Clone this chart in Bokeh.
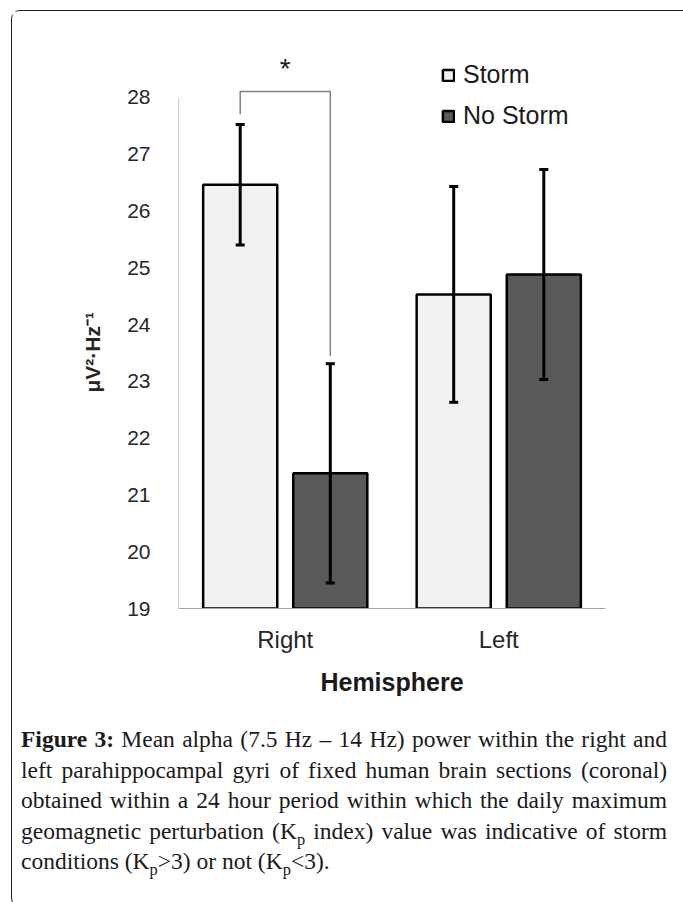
from bokeh.plotting import figure
from bokeh.models import (ColumnDataSource, FactorRange, Range1d, FixedTicker, Whisker,
                          TeeHead, Legend, LegendItem, Div, Title)
from bokeh.layouts import column
from bokeh.transform import dodge
from bokeh.core.properties import value
from bokeh.embed import file_html
from bokeh.resources import INLINE

# ---- data ----
hemispheres = ["Right", "Left"]
storm_mean = [26.46, 24.53]
storm_err = [1.06, 1.90]
nostorm_mean = [21.38, 24.88]
nostorm_err = [1.93, 1.85]
y_ticks = [19, 20, 21, 22, 23, 24, 25, 26, 27, 28]
series_labels = ["Storm", "No Storm"]
sig_bracket_y = [27.70, 28.10, 28.10, 23.45]   # significance bracket levels
sig_label = "*"
sig_label_y = 28.5
y_title = "\u03bcV\u00b2\u00b7Hz\u207b\u00b9"

Y_MIN, Y_AXIS_TOP, Y_VIEW_TOP = 19, 28, 29
OFF = 0.211
BAR_W = 0.347
SANS = "Liberation Sans"

src = ColumnDataSource(dict(
    hemi=hemispheres,
    storm=storm_mean,
    storm_lo=[m - e for m, e in zip(storm_mean, storm_err)],
    storm_hi=[m + e for m, e in zip(storm_mean, storm_err)],
    nostorm=nostorm_mean,
    nostorm_lo=[m - e for m, e in zip(nostorm_mean, nostorm_err)],
    nostorm_hi=[m + e for m, e in zip(nostorm_mean, nostorm_err)],
    base=[Y_MIN] * len(hemispheres),
))

p = figure(x_range=FactorRange(factors=hemispheres, range_padding=0),
           y_range=Range1d(Y_MIN, Y_VIEW_TOP),
           width=670, height=705, output_backend="svg", toolbar_location=None,
           min_border_left=166, min_border_right=77, min_border_top=29, min_border_bottom=108)
p.outline_line_color = None
p.grid.visible = False
p.background_fill_color = "white"
p.border_fill_color = "white"

r_storm = p.vbar(x=dodge("hemi", -OFF, range=p.x_range), top="storm", bottom="base", width=BAR_W,
                 source=src, fill_color="#f2f2f2", line_color="black", line_width=2.5)
r_nostorm = p.vbar(x=dodge("hemi", OFF, range=p.x_range), top="nostorm", bottom="base", width=BAR_W,
                   source=src, fill_color="#595959", line_color="black", line_width=2.5)

for field, off in (("storm", -OFF), ("nostorm", OFF)):
    w = Whisker(base=dodge("hemi", off, range=p.x_range), lower=field + "_lo", upper=field + "_hi",
                source=src, line_color="black", line_width=3, level="overlay",
                upper_head=TeeHead(size=9, line_width=3, line_color="black"),
                lower_head=TeeHead(size=9, line_width=3, line_color="black"))
    p.add_layout(w)

# y axis line only up to the top tick (Excel style)
p.segment(x0=[0], y0=[Y_MIN], x1=[0], y1=[Y_AXIS_TOP], line_color="#a6a6a6", line_width=1.2)

# significance bracket between the two "Right" bars
i = hemispheres.index("Right") + 0.5
p.line(x=[i - OFF, i - OFF, i + OFF, i + OFF], y=sig_bracket_y, line_color="#808080", line_width=1.5)
p.text(x=["Right"], y=[sig_label_y], text=[sig_label], text_align="center", text_baseline="middle",
       text_font=value(SANS), text_font_size="28px", text_color="#1a1a1a")

# axes
p.yaxis.ticker = FixedTicker(ticks=y_ticks)
p.yaxis.axis_line_color = None
p.yaxis.major_tick_line_color = None
p.yaxis.minor_tick_line_color = None
p.yaxis.major_label_standoff = 22
p.yaxis.major_label_text_font = SANS
p.yaxis.major_label_text_font_size = "21px"
p.yaxis.major_label_text_color = "#262626"

# y-axis title, placed along the ticked part of the axis (19..28)
p.add_layout(Title(text=y_title, align="left", offset=216, standoff=42,
                   text_font=SANS, text_font_style="bold", text_font_size="21px",
                   text_color="#262626"), "left")

p.xaxis.axis_line_color = "#a6a6a6"
p.xaxis.axis_line_width = 1.2
p.xaxis.major_tick_line_color = None
p.xaxis.minor_tick_line_color = None
p.xaxis.major_label_standoff = 11
p.xaxis.major_label_text_font = SANS
p.xaxis.major_label_text_font_size = "24px"
p.xaxis.major_label_text_color = "#262626"
p.xaxis.axis_label = "Hemisphere"
p.xaxis.axis_label_text_font = SANS
p.xaxis.axis_label_text_font_style = "bold"
p.xaxis.axis_label_text_font_size = "25px"
p.xaxis.axis_label_text_color = "#1a1a1a"
p.xaxis.axis_label_standoff = 12

legend = Legend(items=[LegendItem(label=series_labels[0], renderers=[r_storm]),
                       LegendItem(label=series_labels[1], renderers=[r_nostorm])],
                location=(263, 478), orientation="vertical",
                glyph_width=14, glyph_height=14, label_height=26, spacing=12,
                label_standoff=8, padding=0, margin=0,
                label_text_font=SANS, label_text_font_size="25px", label_text_color="#1a1a1a",
                border_line_color=None, background_fill_alpha=0)
p.add_layout(legend)

caption_lines = [
    "<b>Figure 3:</b> Mean alpha (7.5 Hz &ndash; 14 Hz) power within the right and",
    "left parahippocampal gyri of fixed human brain sections (coronal)",
    "obtained within a 24 hour period within which the daily maximum",
    "geomagnetic perturbation (K<sub style='font-size:70%'>p</sub> index) value was indicative of storm",
    "conditions (K<sub style='font-size:70%'>p</sub>&gt;3) or not (K<sub style='font-size:70%'>p</sub>&lt;3).",
]
line_html = []
for k, t in enumerate(caption_lines):
    last = k == len(caption_lines) - 1
    al = "left" if last else "justify"
    line_html.append(f"<div style=\"text-align:{al};text-align-last:{al};height:30.5px;line-height:30.5px\">{t}</div>")
caption = Div(text=(
    "<div style=\"margin:3px 0 0 4px;width:646px;font-family:'Liberation Serif';font-size:23.5px;"
    "color:#1a1a1a\">" + "".join(line_html) + "</div>"),
    width=670, height=180)

layout = column(p, caption, margin=(10, 0, 0, 11),
                styles={"border": "1.5px solid #1a1a1a", "border-radius": "9px", "background": "white"})

open("out.html", "w").write(file_html(layout, INLINE))
